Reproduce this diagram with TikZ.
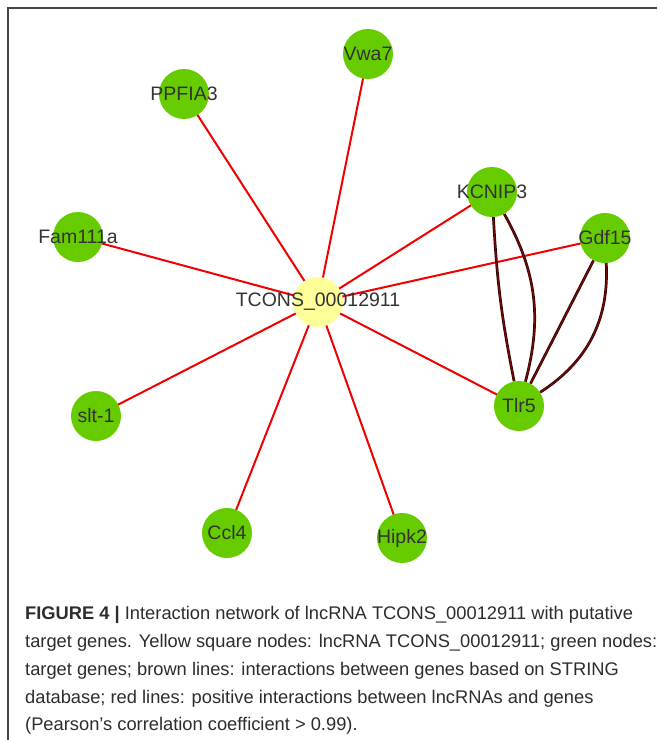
\documentclass[tikz,border=0pt]{standalone}
\usepackage{fontspec}
\setmainfont{Liberation Sans}
\definecolor{genegreen}{RGB}{102,204,0}
\definecolor{lncyellow}{RGB}{255,255,153}
\definecolor{posred}{RGB}{240,0,0}
\definecolor{strcore}{RGB}{115,10,10}
\definecolor{strrim}{RGB}{45,0,0}
\definecolor{labelgrey}{RGB}{51,51,51}
\definecolor{capgrey}{RGB}{45,45,45}
\definecolor{framegrey}{RGB}{70,70,70}
\pgfdeclarelayer{canvas}
\pgfdeclarelayer{edges}
\pgfsetlayers{canvas,edges,main}
\begin{document}
\begin{tikzpicture}[x=1pt,y=-1pt,
  gene/.style={circle,fill=genegreen,minimum size=50pt,inner sep=0pt,draw=none},
  lnc/.style={circle,fill=lncyellow,minimum size=50pt,inner sep=0pt,draw=none},
  lab/.style={text=labelgrey,font=\fontsize{19.5}{22}\selectfont,inner sep=0pt},
  posedge/.style={draw=posred,line width=2pt},
  stredge/.style={draw=strcore,line width=1.3pt,preaction={draw=strrim,line width=2.7pt}},
  captext/.style={text=capgrey,font=\fontsize{18.3}{22}\selectfont,inner sep=0pt,anchor=base west}
]
\useasboundingbox (0,0) rectangle (657,740);
\begin{pgfonlayer}{canvas}
\fill[white] (0,0) rectangle (657,740);
\draw[framegrey,line width=2pt] (8,740) -- (8,8) -- (657,8);
\end{pgfonlayer}

% nodes
\node[lnc]  (tcons)  at (318,302) {};
\node[gene] (vwa7)   at (368,54)  {};
\node[gene] (ppfia3) at (184,94)  {};
\node[gene] (kcnip3) at (492,192) {};
\node[gene] (gdf15)  at (605,238) {};
\node[gene] (fam)    at (78,237)  {};
\node[gene] (slt)    at (96,416)  {};
\node[gene] (tlr5)   at (519,406) {};
\node[gene] (ccl4)   at (227,533) {};
\node[gene] (hipk2)  at (402,538) {};

% edges
\begin{pgfonlayer}{edges}
\foreach \g in {vwa7,ppfia3,kcnip3,gdf15,fam,slt,tlr5,ccl4,hipk2}
  \draw[posedge] (tcons.center) -- (\g.center);
\draw[stredge] (kcnip3) to[bend right=4] (tlr5);
\draw[stredge] (kcnip3) to[bend left=22] (tlr5);
\draw[stredge] (gdf15) -- (tlr5);
\draw[stredge] (gdf15) to[bend left=30] (tlr5);
\end{pgfonlayer}

% labels
\node[lab] (ltcons)  at (tcons)  {TCONS\_00012911};
\node[lab] (lvwa7)   at (vwa7)   {Vwa7};
\node[lab] (lppfia3) at (ppfia3) {PPFIA3};
\node[lab] (lkcnip3) at (kcnip3) {KCNIP3};
\node[lab] (lgdf15)  at (gdf15)  {Gdf15};
\node[lab] (lfam)    at (fam)    {Fam111a};
\node[lab] (lslt)    at (slt)    {slt-1};
\node[lab] (ltlr5)   at (tlr5)   {Tlr5};
\node[lab] (lccl4)   at (ccl4)   {Ccl4};
\node[lab] (lhipk2)  at (hipk2)  {Hipk2};

% caption
\node[captext] (c1) at (25,619) {\textbf{FIGURE 4 |} Interaction network of lncRNA TCONS\_00012911 with putative};
\node[captext] (c2) at (25,647) {target genes. Yellow square nodes: lncRNA TCONS\_00012911; green nodes:};
\node[captext] (c3) at (25,675) {target genes; brown lines: interactions between genes based on STRING};
\node[captext] (c4) at (25,703) {database; red lines: positive interactions between lncRNAs and genes};
\node[captext] (c5) at (25,730) {(Pearson’s correlation coefficient > 0.99).};
\end{tikzpicture}
\end{document}
